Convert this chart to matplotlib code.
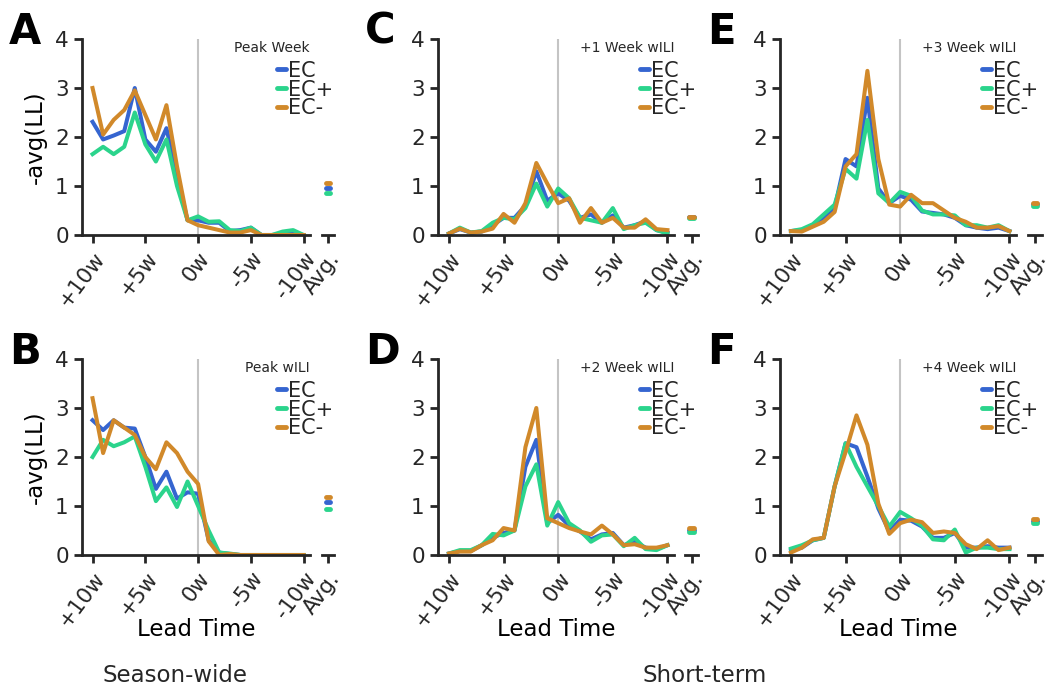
import numpy as np
import matplotlib
matplotlib.use('Agg')
import matplotlib.pyplot as plt

# lead time in weeks, +10w ... -10w
lead = np.arange(10, -11, -1)
models = ['EC', 'EC+', 'EC-']
colors = {'EC': '#3565d0', 'EC+': '#2bd48c', 'EC-': '#d1892a'}

# panel A - Peak Week
a_ec = [2.31, 1.95, 2.03, 2.12, 3.0, 1.95, 1.7, 2.18, 1.2, 0.3, 0.3, 0.25, 0.25, 0.08, 0.1, 0.15, 0.0, 0.0, 0.02, 0.02, 0.0]
a_ecp = [1.65, 1.8, 1.65, 1.8, 2.5, 1.85, 1.5, 1.95, 1.0, 0.3, 0.38, 0.27, 0.28, 0.1, 0.08, 0.15, 0.0, 0.0, 0.07, 0.1, 0.0]
a_ecm = [3.0, 2.05, 2.35, 2.55, 2.95, 2.45, 1.95, 2.65, 1.4, 0.3, 0.2, 0.15, 0.1, 0.05, 0.05, 0.1, 0.0, 0.0, 0.0, 0.0, 0.0]
a_avg = [0.95, 0.85, 1.06]

# panel B - Peak wILI
b_ec = [2.75, 2.55, 2.75, 2.6, 2.58, 2.0, 1.35, 1.7, 1.15, 1.28, 1.25, 0.3, 0.05, 0.02, 0.0, 0.0, 0.0, 0.0, 0.0, 0.0, 0.0]
b_ecp = [2.0, 2.35, 2.22, 2.3, 2.42, 1.8, 1.1, 1.38, 0.98, 1.5, 1.0, 0.5, 0.05, 0.03, 0.0, 0.0, 0.0, 0.0, 0.0, 0.0, 0.0]
b_ecm = [3.2, 2.08, 2.75, 2.6, 2.45, 2.0, 1.75, 2.3, 2.08, 1.7, 1.45, 0.28, 0.0, 0.02, 0.0, 0.0, 0.0, 0.0, 0.0, 0.0, 0.0]
b_avg = [1.08, 0.93, 1.18]

# panel C - +1 week
c_ec = [0.03, 0.12, 0.05, 0.07, 0.2, 0.35, 0.35, 0.6, 1.3, 0.7, 0.85, 0.7, 0.35, 0.42, 0.25, 0.4, 0.15, 0.2, 0.28, 0.1, 0.05]
c_ecp = [0.03, 0.15, 0.05, 0.08, 0.25, 0.35, 0.32, 0.55, 1.05, 0.58, 0.95, 0.75, 0.35, 0.3, 0.25, 0.55, 0.12, 0.2, 0.25, 0.1, 0.03]
c_ecm = [0.03, 0.13, 0.05, 0.07, 0.13, 0.43, 0.25, 0.65, 1.47, 1.05, 0.65, 0.75, 0.25, 0.55, 0.25, 0.35, 0.15, 0.15, 0.32, 0.12, 0.1]
c_avg = [0.36, 0.34, 0.37]

# panel D - +2 week
d_ec = [0.03, 0.08, 0.08, 0.2, 0.35, 0.45, 0.5, 1.8, 2.35, 0.65, 0.82, 0.6, 0.48, 0.32, 0.42, 0.45, 0.2, 0.27, 0.15, 0.12, 0.2]
d_ecp = [0.03, 0.1, 0.1, 0.2, 0.43, 0.4, 0.5, 1.4, 1.85, 0.6, 1.08, 0.65, 0.5, 0.27, 0.4, 0.42, 0.18, 0.35, 0.12, 0.1, 0.2]
d_ecm = [0.03, 0.07, 0.07, 0.2, 0.3, 0.55, 0.5, 2.2, 3.0, 0.75, 0.65, 0.55, 0.48, 0.42, 0.6, 0.42, 0.2, 0.22, 0.15, 0.15, 0.2]
d_avg = [0.52, 0.47, 0.56]

# panel E - +3 week
e_ec = [0.08, 0.1, 0.2, 0.35, 0.55, 1.55, 1.4, 2.8, 0.95, 0.65, 0.8, 0.72, 0.48, 0.45, 0.42, 0.35, 0.2, 0.15, 0.12, 0.15, 0.08]
e_ecp = [0.08, 0.12, 0.22, 0.42, 0.62, 1.35, 1.15, 2.35, 0.85, 0.65, 0.88, 0.8, 0.5, 0.42, 0.42, 0.4, 0.2, 0.2, 0.15, 0.2, 0.08]
e_ecm = [0.08, 0.07, 0.17, 0.27, 0.47, 1.4, 1.65, 3.35, 1.55, 0.62, 0.58, 0.82, 0.65, 0.65, 0.5, 0.35, 0.27, 0.15, 0.15, 0.18, 0.08]
e_avg = [0.64, 0.59, 0.66]

# panel F - +4 week
f_ec = [0.1, 0.15, 0.3, 0.35, 1.4, 2.28, 2.2, 1.6, 0.95, 0.48, 0.72, 0.7, 0.58, 0.35, 0.35, 0.45, 0.15, 0.15, 0.18, 0.15, 0.15]
f_ecp = [0.13, 0.2, 0.3, 0.35, 1.4, 2.28, 1.8, 1.4, 1.0, 0.58, 0.88, 0.75, 0.6, 0.32, 0.3, 0.52, 0.05, 0.15, 0.15, 0.12, 0.12]
f_ecm = [0.05, 0.15, 0.32, 0.35, 1.4, 2.1, 2.85, 2.25, 1.05, 0.43, 0.65, 0.72, 0.67, 0.45, 0.48, 0.45, 0.22, 0.12, 0.3, 0.1, 0.15]
f_avg = [0.7, 0.65, 0.73]

panels = [
    ('A', 'Peak Week', [a_ec, a_ecp, a_ecm], a_avg),
    ('B', 'Peak wILI', [b_ec, b_ecp, b_ecm], b_avg),
    ('C', '+1 Week wILI', [c_ec, c_ecp, c_ecm], c_avg),
    ('D', '+2 Week wILI', [d_ec, d_ecp, d_ecm], d_avg),
    ('E', '+3 Week wILI', [e_ec, e_ecp, e_ecm], e_avg),
    ('F', '+4 Week wILI', [f_ec, f_ecp, f_ecm], f_avg),
]

tick_pos = [10, 5, 0, -5, -10]
tick_lab = ['+10w', '+5w', '0w', '-5w', '-10w']

W, H = 1055, 687
txt = '#262626'
plt.rcParams['font.family'] = 'DejaVu Sans'
plt.rcParams['text.color'] = txt

fig = plt.figure(figsize=(W / 100, H / 100), dpi=100)

# pixel layout: (main left, main width, avg left, avg width) per column
cols = [(82, 228, 322, 12), (438, 236, 685, 13), (780, 236, 1028, 14)]
rows = [(39, 196), (359, 196)]
rot = 53


def style_axis(ax):
    for s in ['top', 'right']:
        ax.spines[s].set_visible(False)
    for s in ['left', 'bottom']:
        ax.spines[s].set_linewidth(2.0)
        ax.spines[s].set_color(txt)
    ax.tick_params(width=2.0, length=6, color=txt, labelsize=15.5, labelcolor=txt)


for k, (letter, title, series, avgs) in enumerate(panels):
    col = cols[k // 2]
    row = rows[k % 2]
    top, h = row
    ax = fig.add_axes([col[0] / W, 1 - (top + h) / H, col[1] / W, h / H])
    ax2 = fig.add_axes([col[2] / W, 1 - (top + h) / H, col[3] / W, h / H])

    ax.axvline(0, color='#c4c4c4', lw=1.5, zorder=0)
    for m, vals in zip(models, series):
        ax.plot(lead, vals, color=colors[m], lw=2.9, label=m)
    ax.set_xlim(11, -10.6)
    ax.set_ylim(0, 4)
    ax.set_yticks([0, 1, 2, 3, 4])
    ax.set_xticks(tick_pos)
    ax.set_xticklabels(tick_lab, rotation=rot, ha='right', rotation_mode='anchor')
    style_axis(ax)

    # averages on their own small axis
    for m, v in zip(models, avgs):
        ax2.hlines(v, -0.35, 0.35, color=colors[m], lw=3.5, capstyle='round')
    ax2.set_xlim(-1, 1)
    ax2.set_ylim(0, 4)
    ax2.set_xticks([0])
    ax2.set_xticklabels(['Avg.'], rotation=rot, ha='right', rotation_mode='anchor')
    ax2.set_yticks([])
    style_axis(ax2)
    ax2.spines['left'].set_visible(False)
    ax2.patch.set_alpha(0)

    ax.text(1.0, 0.99, title, transform=ax.transAxes, ha='right', va='top', fontsize=10)
    leg = ax.legend(loc='upper left', bbox_to_anchor=(0.855, 0.89), frameon=False,
                    fontsize=15, handlelength=0.45, handletextpad=0.1,
                    labelspacing=-0.05, borderpad=0, borderaxespad=0)
    for line in leg.get_lines():
        line.set_linewidth(3.5)
        line.set_solid_capstyle('round')

    fig.text((col[0] - 73) / W, 1 - (top - 28) / H, letter, fontsize=30,
             fontweight='bold', color='black', ha='left', va='top')

    if k < 2:
        ax.set_ylabel('-avg(LL)', fontsize=16.5, labelpad=6)
    if k % 2 == 1:
        ax.set_xlabel('Lead Time', fontsize=16.5, labelpad=-9)

fig.text(175 / W, 1 - 675 / H, 'Season-wide', fontsize=16.5, ha='center', va='center')
fig.text(705 / W, 1 - 675 / H, 'Short-term', fontsize=16.5, ha='center', va='center')

fig.savefig('out.png', dpi=100)
